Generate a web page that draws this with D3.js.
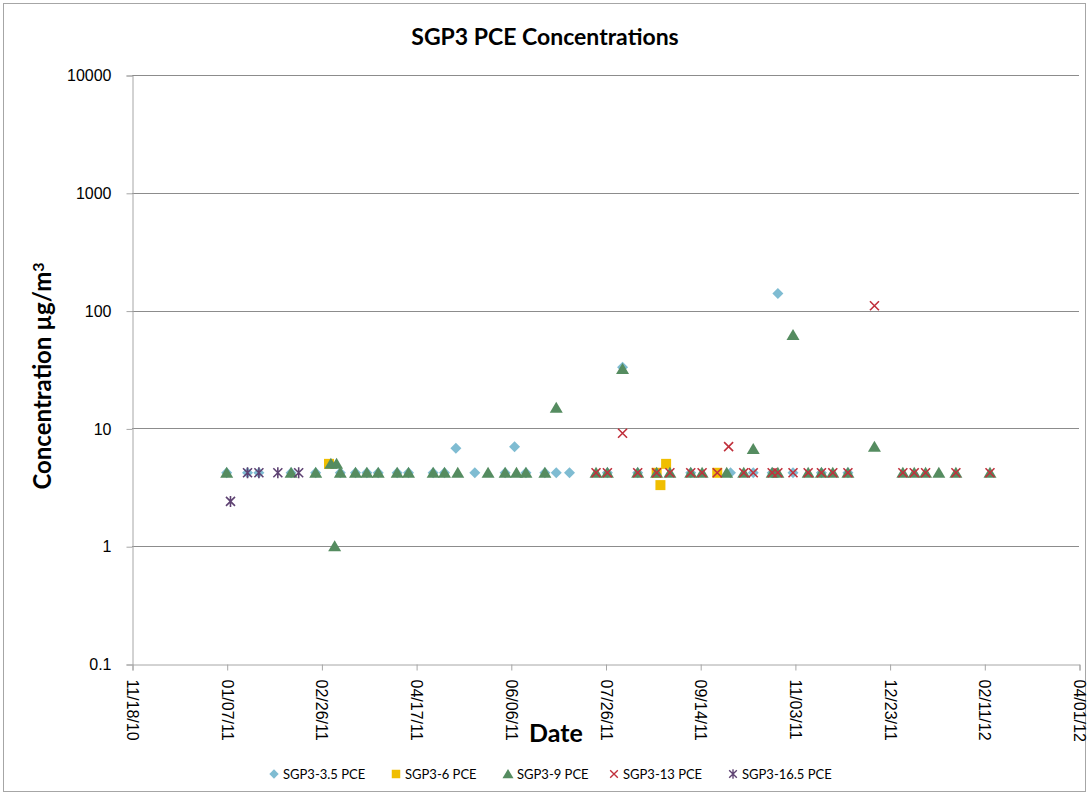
<!DOCTYPE html>
<html>
<head>
<meta charset="utf-8">
<script src="https://cdn.jsdelivr.net/npm/d3@7"></script>
<style>
  html, body { margin: 0; padding: 0; background: #fff; }
</style>
</head>
<body>
<div id="chart"></div>
<script>
// data
const seriesNames = ['SGP3-3.5 PCE', 'SGP3-6 PCE', 'SGP3-9 PCE', 'SGP3-13 PCE', 'SGP3-16.5 PCE'];

const sgp35Dates = ['2011-01-07', '2011-01-18', '2011-01-24', '2011-02-10', '2011-02-23', '2011-03-08',
  '2011-03-16', '2011-03-22', '2011-03-28', '2011-04-07', '2011-04-13', '2011-04-26', '2011-05-02',
  '2011-05-08', '2011-05-18', '2011-06-03', '2011-06-08', '2011-06-14', '2011-06-24', '2011-06-30',
  '2011-07-07', '2011-07-27', '2011-08-04', '2011-08-12', '2011-09-09', '2011-09-30', '2011-10-12',
  '2011-10-22', '2011-10-25', '2011-11-02', '2011-11-17', '2011-12-01'];
const sgp35Values = [4.2, 4.2, 4.2, 4.2, 4.2, 4.2,
  4.2, 4.2, 4.2, 4.2, 4.2, 4.2, 4.2,
  6.8, 4.2, 4.2, 7.0, 4.2, 4.2, 4.2,
  4.2, 4.2, 33, 4.2, 4.2, 4.2, 4.2,
  4.2, 140, 4.2, 4.2, 4.2];

const sgp6Dates = ['2011-03-02', '2011-08-22', '2011-08-24', '2011-08-27', '2011-09-23'];
const sgp6Values = [5.0, 4.2, 3.3, 5.0, 4.2];

const sgp9Dates = ['2011-01-07', '2011-02-10', '2011-02-23', '2011-03-03', '2011-03-05', '2011-03-06',
  '2011-03-08', '2011-03-16', '2011-03-22', '2011-03-28', '2011-04-07', '2011-04-13', '2011-04-26',
  '2011-05-02', '2011-05-09', '2011-05-25', '2011-06-03', '2011-06-09', '2011-06-14', '2011-06-24',
  '2011-06-30', '2011-07-21', '2011-07-27', '2011-08-04', '2011-08-12', '2011-08-22', '2011-08-29',
  '2011-09-09', '2011-09-15', '2011-09-28', '2011-10-07', '2011-10-12', '2011-10-22', '2011-10-25',
  '2011-11-02', '2011-11-10', '2011-11-17', '2011-11-23', '2011-12-01', '2011-12-15', '2011-12-30',
  '2012-01-05', '2012-01-11', '2012-01-18', '2012-01-27', '2012-02-14'];
const sgp9Values = [4.2, 4.2, 4.2, 5.0, 1.0, 5.0,
  4.2, 4.2, 4.2, 4.2, 4.2, 4.2, 4.2,
  4.2, 4.2, 4.2, 4.2, 4.2, 4.2, 4.2,
  15, 4.2, 4.2, 32, 4.2, 4.2, 4.2,
  4.2, 4.2, 4.2, 4.2, 6.7, 4.2, 4.2,
  62, 4.2, 4.2, 4.2, 4.2, 7.0, 4.2,
  4.2, 4.2, 4.2, 4.2, 4.2];

const sgp13Dates = ['2011-07-21', '2011-07-27', '2011-08-04', '2011-08-12', '2011-08-22', '2011-08-29',
  '2011-09-09', '2011-09-15', '2011-09-23', '2011-09-29', '2011-10-07', '2011-10-12', '2011-10-22',
  '2011-10-25', '2011-11-02', '2011-11-10', '2011-11-17', '2011-11-23', '2011-12-01', '2011-12-15',
  '2011-12-30', '2012-01-05', '2012-01-11', '2012-01-27', '2012-02-14'];
const sgp13Values = [4.2, 4.2, 9.1, 4.2, 4.2, 4.2,
  4.2, 4.2, 4.2, 7.0, 4.2, 4.2, 4.2,
  4.2, 4.2, 4.2, 4.2, 4.2, 4.2, 110,
  4.2, 4.2, 4.2, 4.2, 4.2];

const sgp165Dates = ['2011-01-09', '2011-01-18', '2011-01-24', '2011-02-03', '2011-02-14'];
const sgp165Values = [2.4, 4.2, 4.2, 4.2, 4.2];

// axis ticks
const xTickDates = ['2010-11-18', '2011-01-07', '2011-02-26', '2011-04-17', '2011-06-06', '2011-07-26',
  '2011-09-14', '2011-11-03', '2011-12-23', '2012-02-11', '2012-04-01'];
const yTickValues = [0.1, 1, 10, 100, 1000, 10000];

// svg領域設定
const svgWidth = 1089;
const svgHeight = 794;
const svg = d3.select('#chart')
  .append('svg')
  .attr('width', svgWidth)
  .attr('height', svgHeight)
  .style('display', 'block');

// chart border
svg.append('rect')
  .attr('x', 3.5).attr('y', 3.5)
  .attr('width', 1082).attr('height', 788)
  .attr('fill', '#fff')
  .attr('stroke', '#a6a6a6');

const plot = { left: 132, right: 1079, top: 75, bottom: 664 };

const parse = d3.timeParse('%Y-%m-%d');
const x = d3.scaleTime()
  .domain([parse(xTickDates[0]), parse(xTickDates[xTickDates.length - 1])])
  .range([plot.left, plot.right]);
const y = d3.scaleLog()
  .domain([0.1, 10000])
  .range([plot.bottom, plot.top]);

// gridlines
svg.append('g')
  .selectAll('line')
  .data(yTickValues.filter(v => v > 0.1))
  .join('line')
  .attr('x1', plot.left).attr('x2', plot.right)
  .attr('y1', d => Math.round(y(d)) + 0.5).attr('y2', d => Math.round(y(d)) + 0.5)
  .attr('stroke', '#8c8c8c');

// y axis
const yAxis = svg.append('g')
  .attr('transform', `translate(${plot.left + 0.5},0.5)`)
  .call(d3.axisLeft(y).tickValues(yTickValues).tickSize(6).tickPadding(15)
    .tickFormat(d => d < 1 ? '0.1' : d3.format('d')(d)));
yAxis.select('.domain').attr('stroke', '#a6a6a6');
yAxis.selectAll('.tick line').attr('stroke', '#a6a6a6');
yAxis.selectAll('.tick text')
  .attr('font-family', 'Liberation Sans, Arial, sans-serif')
  .attr('font-size', 16)
  .attr('fill', '#000');

// x axis
const xAxis = svg.append('g')
  .attr('transform', `translate(0.5,${plot.bottom + 0.5})`)
  .call(d3.axisBottom(x).tickValues(xTickDates.map(parse)).tickSize(6)
    .tickFormat(d3.timeFormat('%m/%d/%y')));
xAxis.select('.domain').attr('stroke', '#a6a6a6');
xAxis.selectAll('.tick line').attr('stroke', '#a6a6a6');
xAxis.selectAll('.tick text')
  .attr('font-family', 'Liberation Sans, Arial, sans-serif')
  .attr('font-size', 16)
  .attr('fill', '#000')
  .attr('text-anchor', 'start')
  .attr('transform', 'translate(-6,15) rotate(90)')
  .attr('x', 0).attr('y', 0).attr('dy', '0');

// titles
svg.append('text')
  .attr('x', 545).attr('y', 45)
  .attr('text-anchor', 'middle')
  .attr('font-family', 'Lato, sans-serif')
  .attr('font-weight', 'bold')
  .attr('font-size', 23)
  .text('SGP3 PCE Concentrations');

const yTitle = svg.append('text')
  .attr('transform', 'translate(51,376) rotate(-90)')
  .attr('text-anchor', 'middle')
  .attr('font-family', 'Lato, sans-serif')
  .attr('font-weight', 'bold')
  .attr('font-size', 24);
yTitle.append('tspan').text('Concentration µg/m');
yTitle.append('tspan').attr('baseline-shift', '45%').attr('font-size', 16).text('3');

svg.append('text')
  .attr('x', 556).attr('y', 742)
  .attr('text-anchor', 'middle')
  .attr('font-family', 'Lato, sans-serif')
  .attr('font-weight', 'bold')
  .attr('font-size', 25)
  .text('Date');

// markers
function markerPath(type) {
  switch (type) {
    case 'diamond': return 'M0,-5.5L5.5,0L0,5.5L-5.5,0Z';
    case 'square': return 'M-5,-5H5V5H-5Z';
    case 'triangle': return 'M0,-6L6.5,5L-6.5,5Z';
    case 'x': return 'M-4.5,-4.5L4.5,4.5M4.5,-4.5L-4.5,4.5';
    default: return 'M-4.5,-4.5L4.5,4.5M4.5,-4.5L-4.5,4.5M0,-5.5L0,5.5';
  }
}

const series = [
  { name: seriesNames[0], type: 'diamond', color: '#7fbcd2', dates: sgp35Dates, values: sgp35Values },
  { name: seriesNames[1], type: 'square', color: '#f0be00', dates: sgp6Dates, values: sgp6Values },
  { name: seriesNames[2], type: 'triangle', color: '#558c60', dates: sgp9Dates, values: sgp9Values },
  { name: seriesNames[3], type: 'x', color: '#c0303c', dates: sgp13Dates, values: sgp13Values },
  { name: seriesNames[4], type: 'star', color: '#5e4272', dates: sgp165Dates, values: sgp165Values }
];

function styleMarker(sel, s) {
  if (s.type === 'x' || s.type === 'star') {
    sel.attr('fill', 'none').attr('stroke', s.color).attr('stroke-width', 1.6);
  } else {
    sel.attr('fill', s.color).attr('stroke', 'none');
  }
}

series.forEach(s => {
  const pts = s.dates.map((d, i) => ({ date: parse(d), value: s.values[i] }));
  const g = svg.append('g').attr('class', 'series');
  g.selectAll('path')
    .data(pts)
    .join('path')
    .attr('d', markerPath(s.type))
    .attr('transform', d => `translate(${x(d.date)},${y(d.value)})`)
    .call(styleMarker, s);
});

// legend
const legendX = [274, 396, 508, 614, 733];
const legend = svg.append('g')
  .selectAll('g')
  .data(series)
  .join('g')
  .attr('transform', (d, i) => `translate(${legendX[i]},774)`);
legend.append('path')
  .attr('d', d => markerPath(d.type))
  .attr('transform', 'scale(0.85)')
  .each(function (d) { d3.select(this).call(styleMarker, d); });
legend.append('text')
  .attr('x', 9).attr('y', 5)
  .attr('font-family', 'Lato, sans-serif')
  .attr('font-size', 13)
  .text(d => d.name);
</script>
</body>
</html>
